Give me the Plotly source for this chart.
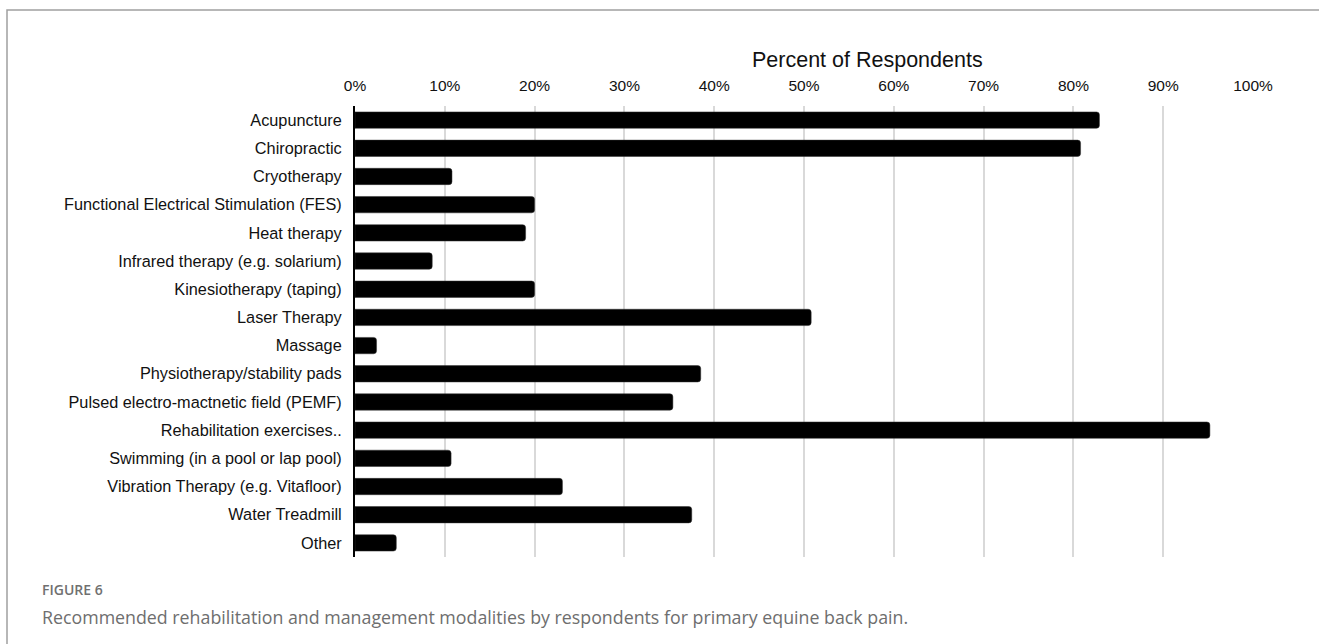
import plotly.graph_objects as go

categories = [
    "Acupuncture",
    "Chiropractic",
    "Cryotherapy",
    "Functional Electrical Stimulation (FES)",
    "Heat therapy",
    "Infrared therapy (e.g. solarium)",
    "Kinesiotherapy (taping)",
    "Laser Therapy",
    "Massage",
    "Physiotherapy/stability pads",
    "Pulsed electro-mactnetic field (PEMF)",
    "Rehabilitation exercises..",
    "Swimming (in a pool or lap pool)",
    "Vibration Therapy (e.g. Vitafloor)",
    "Water Treadmill",
    "Other",
]
percent = [82.9, 80.8, 10.8, 20.0, 19.0, 8.6, 20.0, 50.8, 2.4, 38.5, 35.4, 95.2, 10.7, 23.1, 37.5, 4.6]
tick_values = [0, 10, 20, 30, 40, 50, 60, 70, 80, 90, 100]
tick_labels = ["0%", "10%", "20%", "30%", "40%", "50%", "60%", "70%", "80%", "90%", "100%"]
axis_title = "Percent of Respondents"
figure_label = "FIGURE 6"
caption = "Recommended rehabilitation and management modalities by respondents for primary equine back pain."

W, H = 1319, 644
L, R, T, B = 355, 66, 106, 87
pw, ph = W - L - R, H - T - B


def px_x(x):
    return (x - L) / pw


def px_y(y):
    return (H - B - y) / ph


fig = go.Figure(
    go.Bar(
        x=percent,
        y=categories,
        orientation="h",
        marker=dict(color="#000000", line=dict(color="#333333", width=0.5), cornerradius=3),
        width=0.58,
        hoverinfo="x+y",
    )
)

fig.update_layout(
    width=W,
    height=H,
    margin=dict(l=L, r=R, t=T, b=B),
    paper_bgcolor="white",
    plot_bgcolor="white",
    showlegend=False,
    font=dict(family="Liberation Sans, Arial, sans-serif", color="#111111"),
    xaxis=dict(
        side="top",
        range=[0, 100],
        tickvals=tick_values,
        ticktext=tick_labels,
        showgrid=True,
        gridcolor="#d9d9d9",
        gridwidth=1.5,
        zeroline=False,
        showline=False,
        ticks="",
        ticklabelstandoff=11,
        tickfont=dict(size=15.5, color="#111111"),
        fixedrange=True,
    ),
    yaxis=dict(
        categoryorder="array",
        categoryarray=categories,
        autorange="reversed",
        showline=True,
        linecolor="#000000",
        linewidth=2,
        showgrid=False,
        ticks="",
        ticklabelstandoff=8,
        tickfont=dict(size=16.3, color="#111111"),
        fixedrange=True,
    ),
)

# axis title
fig.add_annotation(
    x=px_x(867), y=px_y(60), xref="paper", yref="paper",
    text=axis_title, showarrow=False,
    font=dict(size=21.5, color="#111111", family="Liberation Sans, Arial, sans-serif"),
    xanchor="center", yanchor="middle",
)

# caption
fig.add_annotation(
    x=px_x(40), y=px_y(589), xref="paper", yref="paper",
    text=figure_label, showarrow=False,
    font=dict(size=14, color="#707070", family="Open Sans, sans-serif", weight=600),
    xanchor="left", yanchor="middle",
)
fig.add_annotation(
    x=px_x(40), y=px_y(617), xref="paper", yref="paper",
    text=caption, showarrow=False,
    font=dict(size=17.8, color="#6e6e6e", family="Open Sans, sans-serif"),
    xanchor="left", yanchor="middle",
)

# outer frame
fig.add_shape(
    type="rect", xref="paper", yref="paper",
    x0=px_x(7), x1=px_x(W + 20), y0=px_y(H + 20), y1=px_y(10),
    line=dict(color="#a0a0a0", width=1.5), fillcolor="rgba(0,0,0,0)", layer="above",
)

fig.write_html(
    "out.html",
    config={"displayModeBar": False},
    post_script="document.body.style.margin='0';document.body.style.padding='0';",
)
